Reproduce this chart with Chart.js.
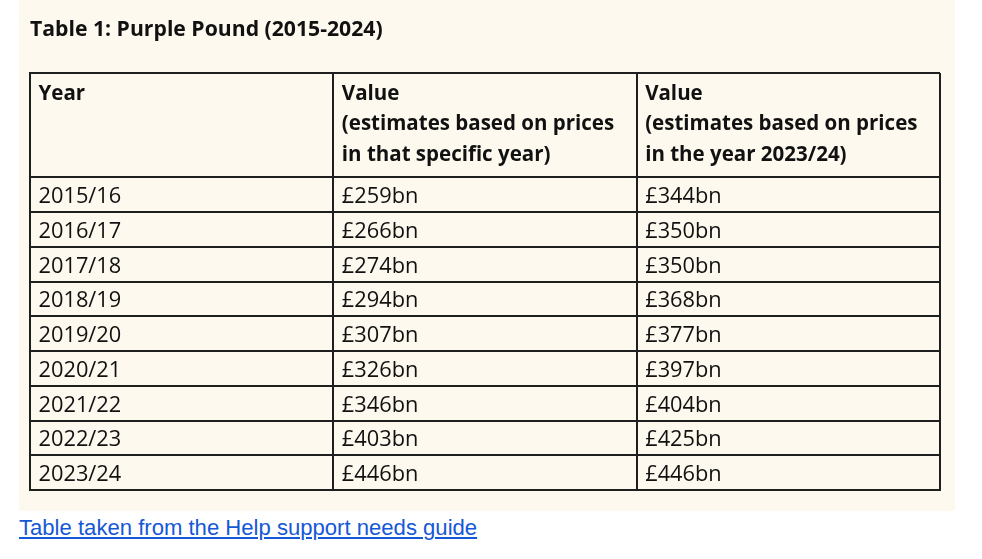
<!DOCTYPE html>
<html>
<head>
<meta charset="utf-8">
<script src="https://cdn.jsdelivr.net/npm/chart.js@4.4.1/dist/chart.umd.min.js"></script>
<style>
  html, body { margin: 0; padding: 0; background: #ffffff; width: 982px; height: 559px; overflow: hidden; }
  #panel { position: absolute; left: 19px; top: 0; width: 936px; height: 511px; background: #FDF9EE; }
  #wrap { position: absolute; left: 0; top: 0; width: 982px; height: 511px; }
  #link { position: absolute; left: 19px; top: 515px; font-family: "Liberation Sans", Arial, sans-serif;
          font-size: 22.1px; line-height: 26px; color: #1558D6; text-decoration: underline; white-space: nowrap; }
</style>
</head>
<body>
<div id="panel"></div>
<div id="wrap"><canvas id="c"></canvas></div>
<a id="link" href="#">Table taken from the Help support needs guide</a>
<script>
// ---- data ----
const tableTitle = 'Table 1: Purple Pound (2015-2024)';
const years = ['2015/16','2016/17','2017/18','2018/19','2019/20','2020/21','2021/22','2022/23','2023/24'];
const valueThatYear = [259, 266, 274, 294, 307, 326, 346, 403, 446];
const value2023_24 = [344, 350, 350, 368, 377, 397, 404, 425, 446];
const headerYear = ['Year'];
const headerValueThatYear = ['Value', '(estimates based on prices', 'in that specific year)'];
const headerValue2023_24 = ['Value', '(estimates based on prices', 'in the year 2023/24)'];

const HEADER_UNITS = 3; // header row spans 3 row units
const fmt = v => '£' + v + 'bn';

const columns = [
  { header: headerYear, labels: years },
  { header: headerValueThatYear, labels: valueThatYear.map(fmt) },
  { header: headerValue2023_24, labels: value2023_24.map(fmt) }
];

const datasets = columns.map((col, ci) => ({
  label: col.header.join(' '),
  data: col.labels.map((lab, ri) => ({ x: ci, y: HEADER_UNITS + ri + 0.5, text: lab })),
  pointRadius: 0,
  pointHoverRadius: 0,
  showLine: false
}));

const FONT = '"Open Sans"';
const BODY_SIZE = 21.8;
const HEAD_SIZE = 20.5;
const TITLE_SIZE = 21.2;

const cellText = {
  id: 'cellText',
  afterDatasetsDraw(chart) {
    const ctx = chart.ctx;
    const xs = chart.scales.x, ys = chart.scales.y;
    ctx.save();
    ctx.fillStyle = '#111111';
    ctx.textAlign = 'left';
    ctx.textBaseline = 'alphabetic';
    // header cells
    ctx.font = 'bold ' + HEAD_SIZE + 'px ' + FONT;
    columns.forEach((col, ci) => {
      const x = xs.getPixelForValue(ci) + 8.5;
      const top = ys.getPixelForValue(0);
      col.header.forEach((line, li) => {
        ctx.fillText(line, x, top + 27 + li * 30.4);
      });
    });
    // body cells from dataset elements
    ctx.font = BODY_SIZE + 'px ' + FONT;
    chart.data.datasets.forEach((ds, di) => {
      const meta = chart.getDatasetMeta(di);
      meta.data.forEach((el, i) => {
        ctx.fillText(ds.data[i].text, el.x + 8.5, el.y + 8.5);
      });
    });
    ctx.restore();
  }
};

const lineColor = '#1f1f1f';

new Chart(document.getElementById('c'), {
  type: 'scatter',
  data: { datasets },
  options: {
    responsive: true,
    maintainAspectRatio: false,
    animation: false,
    events: [],
    layout: { padding: { left: 30, right: 42, top: 0, bottom: 21 } },
    plugins: {
      legend: { display: false },
      tooltip: { enabled: false },
      title: {
        display: true,
        text: tableTitle,
        align: 'start',
        color: '#111111',
        font: { family: 'Open Sans', size: TITLE_SIZE, weight: 'bold', lineHeight: 1.2 },
        padding: { top: 17, bottom: 30.6 }
      }
    },
    scales: {
      x: {
        type: 'linear', min: 0, max: 3,
        ticks: { display: false, stepSize: 1 },
        grid: { color: lineColor, lineWidth: 2, drawTicks: false },
        border: { display: true, color: lineColor, width: 2 }
      },
      y: {
        type: 'linear', min: 0, max: HEADER_UNITS + years.length, reverse: true,
        ticks: { display: false, stepSize: 1 },
        grid: {
          drawTicks: false,
          lineWidth: 2,
          color: c => (c.tick && c.tick.value > 0 && c.tick.value < HEADER_UNITS) ? 'rgba(0,0,0,0)' : lineColor
        },
        border: { display: true, color: lineColor, width: 2 }
      }
    }
  },
  plugins: [cellText]
});
</script>
</body>
</html>
